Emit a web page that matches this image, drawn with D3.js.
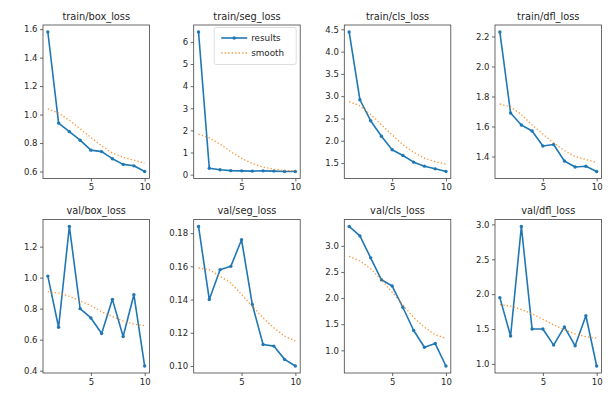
<!DOCTYPE html>
<html>
<head>
<meta charset="utf-8">
<script src="https://cdn.jsdelivr.net/npm/d3@7"></script>
<style>
  html, body { margin: 0; padding: 0; background: #ffffff; }
  svg { display: block; }
  text { font-family: "DejaVu Sans", sans-serif; fill: #262626; }
</style>
</head>
<body>
<svg id="chart" width="608" height="394"></svg>
<script>
// ---- data ----
const epochs = [1, 2, 3, 4, 5, 6, 7, 8, 9, 10];
const titles = ["train/box_loss", "train/seg_loss", "train/cls_loss", "train/dfl_loss",
                "val/box_loss", "val/seg_loss", "val/cls_loss", "val/dfl_loss"];

const trainBox       = [1.58, 0.94, 0.88, 0.82, 0.75, 0.74, 0.69, 0.65, 0.64, 0.60];
const trainBoxSmooth = [1.04, 1.01, 0.96, 0.90, 0.84, 0.78, 0.73, 0.70, 0.68, 0.66];
const trainSeg       = [6.45, 0.29, 0.22, 0.18, 0.17, 0.16, 0.17, 0.16, 0.14, 0.14];
const trainSegSmooth = [1.83, 1.66, 1.38, 1.04, 0.74, 0.50, 0.34, 0.24, 0.19, 0.17];
const trainCls       = [4.44, 2.92, 2.45, 2.10, 1.80, 1.67, 1.52, 1.43, 1.37, 1.31];
const trainClsSmooth = [2.88, 2.78, 2.59, 2.36, 2.13, 1.91, 1.74, 1.61, 1.53, 1.48];
const trainDfl       = [2.23, 1.69, 1.61, 1.57, 1.47, 1.48, 1.37, 1.33, 1.335, 1.30];
const trainDflSmooth = [1.75, 1.73, 1.68, 1.61, 1.55, 1.49, 1.44, 1.40, 1.38, 1.36];
const valBox         = [1.01, 0.68, 1.33, 0.80, 0.74, 0.64, 0.86, 0.62, 0.89, 0.43];
const valBoxSmooth   = [0.91, 0.90, 0.88, 0.85, 0.82, 0.78, 0.75, 0.72, 0.70, 0.69];
const valSeg         = [0.184, 0.140, 0.158, 0.160, 0.176, 0.137, 0.113, 0.112, 0.104, 0.100];
const valSegSmooth   = [0.159, 0.158, 0.154, 0.150, 0.143, 0.136, 0.129, 0.123, 0.118, 0.115];
const valCls         = [3.37, 3.19, 2.77, 2.35, 2.23, 1.82, 1.38, 1.06, 1.13, 0.70];
const valClsSmooth   = [2.80, 2.71, 2.56, 2.35, 2.11, 1.87, 1.63, 1.44, 1.30, 1.23];
const valDfl         = [1.95, 1.40, 2.97, 1.50, 1.50, 1.27, 1.53, 1.26, 1.69, 0.97];
const valDflSmooth   = [1.85, 1.83, 1.78, 1.72, 1.64, 1.56, 1.49, 1.43, 1.39, 1.37];

const xTicks = [5, 10];
const yTicksTrainBox = [0.6, 0.8, 1.0, 1.2, 1.4, 1.6];
const yTicksTrainSeg = [0, 1, 2, 3, 4, 5, 6];
const yTicksTrainCls = [1.5, 2.0, 2.5, 3.0, 3.5, 4.0, 4.5];
const yTicksTrainDfl = [1.4, 1.6, 1.8, 2.0, 2.2];
const yTicksValBox   = [0.4, 0.6, 0.8, 1.0, 1.2];
const yTicksValSeg   = [0.10, 0.12, 0.14, 0.16, 0.18];
const yTicksValCls   = [1.0, 1.5, 2.0, 2.5, 3.0];
const yTicksValDfl   = [1.0, 1.5, 2.0, 2.5, 3.0];

const legendLabels = ["results", "smooth"];

// ---- panels ----
const panels = [
  { title: titles[0], y: trainBox, s: trainBoxSmooth, ticks: yTicksTrainBox, fmt: ".1f" },
  { title: titles[1], y: trainSeg, s: trainSegSmooth, ticks: yTicksTrainSeg, fmt: "d" },
  { title: titles[2], y: trainCls, s: trainClsSmooth, ticks: yTicksTrainCls, fmt: ".1f" },
  { title: titles[3], y: trainDfl, s: trainDflSmooth, ticks: yTicksTrainDfl, fmt: ".1f" },
  { title: titles[4], y: valBox, s: valBoxSmooth, ticks: yTicksValBox, fmt: ".1f" },
  { title: titles[5], y: valSeg, s: valSegSmooth, ticks: yTicksValSeg, fmt: ".2f" },
  { title: titles[6], y: valCls, s: valClsSmooth, ticks: yTicksValCls, fmt: ".1f" },
  { title: titles[7], y: valDfl, s: valDflSmooth, ticks: yTicksValDfl, fmt: ".1f" }
];

const svg = d3.select("#chart");
const blue = "#1f77b4", orange = "#ff7f0e";
const axW = 106.5, axH = 153.5;
const lefts = [43, 193.7, 344.3, 495];
const tops = [25, 219.5];

panels.forEach((p, i) => {
  const col = i % 4, row = Math.floor(i / 4);
  const g = svg.append("g").attr("transform", `translate(${lefts[col]},${tops[row]})`);

  const xExt = d3.extent(epochs);
  const xPad = (xExt[1] - xExt[0]) * 0.05;
  const x = d3.scaleLinear().domain([xExt[0] - xPad, xExt[1] + xPad]).range([0, axW]);

  const all = p.y.concat(p.s);
  const yExt = d3.extent(all);
  const yPad = (yExt[1] - yExt[0]) * 0.05;
  const y = d3.scaleLinear().domain([yExt[0] - yPad, yExt[1] + yPad]).range([axH, 0]);

  // lines
  const line = d3.line().x((d, k) => x(epochs[k])).y(d => y(d));
  g.append("path").datum(p.y).attr("d", line)
    .attr("fill", "none").attr("stroke", blue).attr("stroke-width", 1.6)
    .attr("stroke-linejoin", "round");
  g.selectAll("circle.pt").data(p.y).enter().append("circle")
    .attr("class", "pt").attr("cx", (d, k) => x(epochs[k])).attr("cy", d => y(d))
    .attr("r", 1.7).attr("fill", blue);
  g.append("path").datum(p.s).attr("d", line)
    .attr("fill", "none").attr("stroke", orange).attr("stroke-width", 1.3)
    .attr("stroke-dasharray", "1.3,2.2").attr("stroke-opacity", 0.85);

  // frame
  g.append("rect").attr("x", 0).attr("y", 0).attr("width", axW).attr("height", axH)
    .attr("fill", "none").attr("stroke", "#444").attr("stroke-width", 0.8);

  // axes
  const xa = g.append("g").attr("transform", `translate(0,${axH})`)
    .call(d3.axisBottom(x).tickValues(xTicks).tickFormat(d3.format("d")).tickSize(3).tickPadding(2.5));
  const ya = g.append("g")
    .call(d3.axisLeft(y).tickValues(p.ticks).tickFormat(d3.format(p.fmt)).tickSize(3).tickPadding(2.5));
  [xa, ya].forEach(a => {
    a.select(".domain").remove();
    a.selectAll("line").attr("stroke", "#444").attr("stroke-width", 0.8);
    a.selectAll("text").attr("fill", "#262626").style("font-size", "8.5px")
      .style("font-family", "'DejaVu Sans', sans-serif");
  });

  // title
  g.append("text").attr("x", axW / 2).attr("y", -5.5).attr("text-anchor", "middle")
    .style("font-size", "9.8px").text(p.title);

  // legend in second panel
  if (i === 1) {
    const lw = 82, lh = 37;
    const lg = g.append("g").attr("transform", `translate(${axW - 4 - lw},${2.5})`);
    lg.append("rect").attr("width", lw).attr("height", lh).attr("rx", 2)
      .attr("fill", "#ffffff").attr("fill-opacity", 0.8)
      .attr("stroke", "#d6d6d6").attr("stroke-width", 0.8);
    legendLabels.forEach((lab, k) => {
      const yy = 10.5 + k * 15;
      if (k === 0) {
        lg.append("line").attr("x1", 7).attr("x2", 33).attr("y1", yy).attr("y2", yy)
          .attr("stroke", blue).attr("stroke-width", 1.6);
        lg.append("circle").attr("cx", 20).attr("cy", yy).attr("r", 1.7).attr("fill", blue);
      } else {
        lg.append("line").attr("x1", 7).attr("x2", 33).attr("y1", yy).attr("y2", yy)
          .attr("stroke", orange).attr("stroke-width", 1.3)
          .attr("stroke-dasharray", "1.3,2.2").attr("stroke-opacity", 0.85);
      }
      lg.append("text").attr("x", 37).attr("y", yy).attr("dy", "0.35em")
        .style("font-size", "8.8px").text(lab);
    });
  }
});
</script>
</body>
</html>
